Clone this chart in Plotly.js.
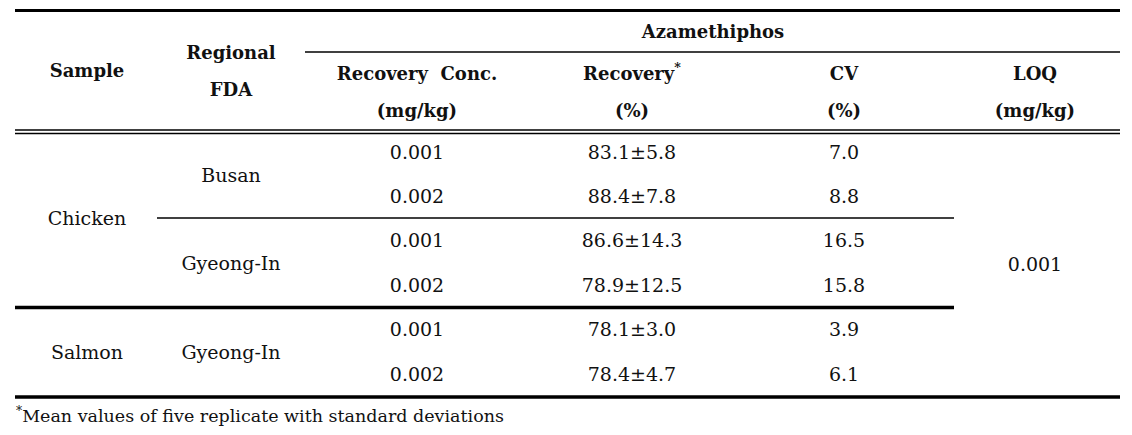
<!DOCTYPE html>
<html>
<head>
<meta charset="utf-8">
<script src="https://cdn.plot.ly/plotly-3.0.1.min.js"></script>
<style>html,body{margin:0;padding:0;background:#fff;}#chart{width:1132px;height:435px;}</style>
</head>
<body>
<div id="chart"></div>
<script>
// ---------- data ----------
const compound = "Azamethiphos";
const headerSample = "Sample";
const headerRegion = ["Regional", "FDA"];
const headerConc = ["Recovery\u00a0\u00a0Conc.", "(mg/kg)"];
const headerRecovery = ["Recovery<sup>*</sup>", "(%)"];
const headerCV = ["CV", "(%)"];
const headerLOQ = ["LOQ", "(mg/kg)"];
const samples = ["Chicken", "Salmon"];
const regions = ["Busan", "Gyeong-In", "Gyeong-In"];
const concentrations = ["0.001", "0.002", "0.001", "0.002", "0.001", "0.002"];
const recoveryMean = [83.1, 88.4, 86.6, 78.9, 78.1, 78.4];
const recoverySD = [5.8, 7.8, 14.3, 12.5, 3.0, 4.7];
const cvValues = [7.0, 8.8, 16.5, 15.8, 3.9, 6.1];
const loqValues = ["0.001"];
const footnote = "<sup>*</sup>Mean values of five replicate with standard deviations";

// ---------- layout geometry (pixel space of the page) ----------
const col = {sample: 87, region: 231, conc: 417, rec: 632, cv: 844, loq: 1035, azam: 713};
const headY = {single: 72, line1: 75, line2: 112, regional1: 54, regional2: 91, azam: 33};
const rowY = [154, 198, 242, 287, 331, 376];
const sampleY = [220, 354];
const regionY = [177, 265, 354];
const loqY = [266];
const footY = 418;
const left = 15, right = 1120, midRight = 954, azamLeft = 305, sepLeft = 157;
const lineY = {top: 10.5, azam: 52, dbl1: 130, dbl2: 133.5, sep: 218, thick: 307.5, bottom: 397};

const FONT = "DejaVu Serif";
const SIZE = 19, BOLD_SIZE = 18, FOOT_SIZE = 17.5;
const INK = "#111";

function textTrace(xs, ys, texts, bold, pos, size) {
  return {
    type: "scatter", mode: "text", x: xs, y: ys,
    text: texts.map(t => bold ? "<b>" + t + "</b>" : t),
    textposition: pos || "middle center",
    textfont: {family: FONT, size: size || (bold ? BOLD_SIZE : SIZE), color: INK},
    hoverinfo: "skip", showlegend: false, cliponaxis: false
  };
}

const recText = recoveryMean.map((m, i) => m.toFixed(1) + "\u00b1" + recoverySD[i].toFixed(1));
const cvText = cvValues.map(v => v.toFixed(1));

const traces = [
  textTrace([col.sample], [headY.single], [headerSample], true),
  textTrace([col.region, col.region], [headY.regional1, headY.regional2], headerRegion, true),
  textTrace([col.azam], [headY.azam], [compound], true),
  textTrace([col.conc, col.conc], [headY.line1, headY.line2], headerConc, true),
  textTrace([col.rec, col.rec], [headY.line1, headY.line2], headerRecovery, true),
  textTrace([col.cv, col.cv], [headY.line1, headY.line2], headerCV, true),
  textTrace([col.loq, col.loq], [headY.line1, headY.line2], headerLOQ, true),
  textTrace(samples.map(() => col.sample), sampleY, samples, false),
  textTrace(regions.map(() => col.region), regionY, regions, false),
  textTrace(concentrations.map(() => col.conc), rowY, concentrations, false),
  textTrace(recText.map(() => col.rec), rowY, recText, false),
  textTrace(cvText.map(() => col.cv), rowY, cvText, false),
  textTrace(loqValues.map(() => col.loq), loqY, loqValues, false),
  textTrace([left + 1], [footY], [footnote], false, "middle right", FOOT_SIZE)
];

function hline(x0, x1, y, w) {
  return {type: "line", xref: "x", yref: "y", x0: x0, x1: x1, y0: y, y1: y,
          line: {color: "#000", width: w}};
}
const shapes = [
  hline(left, right, lineY.top, 3.2),
  hline(azamLeft, right, lineY.azam, 1.3),
  hline(left, right, lineY.dbl1, 1.3),
  hline(left, right, lineY.dbl2, 1.3),
  hline(sepLeft, midRight, lineY.sep, 1.3),
  hline(left, midRight, lineY.thick, 3.5),
  hline(left, right, lineY.bottom, 3.5)
];

const layout = {
  width: 1132, height: 435,
  margin: {l: 0, r: 0, t: 0, b: 0, pad: 0},
  paper_bgcolor: "#fff", plot_bgcolor: "#fff",
  font: {family: FONT, size: SIZE, color: INK},
  xaxis: {range: [0, 1132], visible: false, fixedrange: true},
  yaxis: {range: [435, 0], visible: false, fixedrange: true},
  shapes: shapes,
  showlegend: false
};

Plotly.newPlot("chart", traces, layout, {staticPlot: true, displayModeBar: false});
</script>
</body>
</html>
